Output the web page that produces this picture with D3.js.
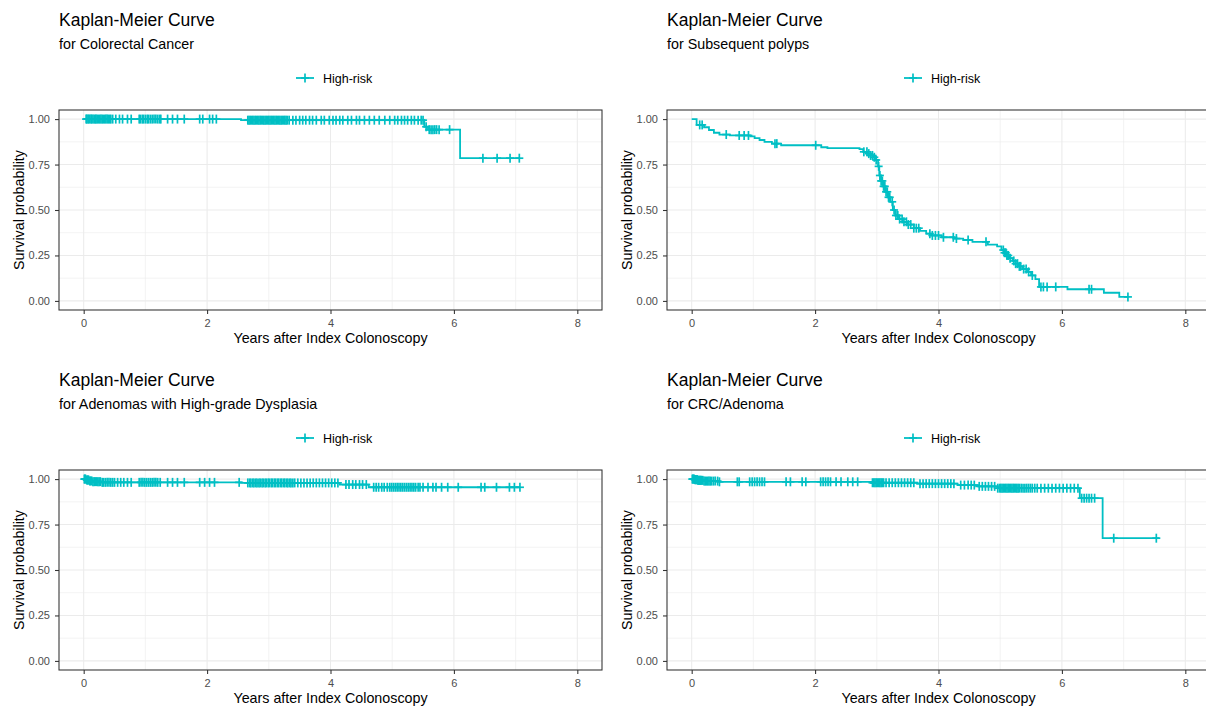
<!DOCTYPE html>
<html lang="en">
<head>
<meta charset="utf-8">
<style>
  body { margin: 0; background: white; }
  svg { background: white; font-family: "Liberation Sans", Arial, sans-serif; }
  .grid-major { stroke: #ebebeb; stroke-width: 1.07px; }
  .grid-minor { stroke: #ebebeb; stroke-width: 0.6px; }
  .border { fill: none; stroke: #333333; stroke-width: 1.07px; }
  .axis text { fill: #4d4d4d; font-size: 11px; font-family: "Liberation Sans", Arial, sans-serif; }
  .axis line { stroke: #333333; stroke-width: 1.07px; }
  .axis path { display: none; }
  .km { fill: none; stroke: #00BFC4; stroke-width: 1.8px; }
  .cens { stroke: #00BFC4; stroke-width: 1.7px; }
  .title { font-size: 17.5px; fill: black; }
  .subtitle { font-size: 14.3px; fill: black; }
  .lab { font-size: 14.3px; fill: black; }
  .legend-text { font-size: 12.5px; fill: black; }
</style>
<script src="https://d3js.org/d3.v7.min.js"></script>
</head>
<body>
<script>
// tick values
var xTicks = [0, 2, 4, 6, 8];
var xMinor = [1, 3, 5, 7];
var yTicks = [0, 0.25, 0.5, 0.75, 1];
var yMinor = [0.125, 0.375, 0.625, 0.875];

var titles = ["Kaplan-Meier Curve", "Kaplan-Meier Curve", "Kaplan-Meier Curve", "Kaplan-Meier Curve"];
var subtitles = ["for Colorectal Cancer", "for Subsequent polyps",
                 "for Adenomas with High-grade Dysplasia", "for CRC/Adenoma"];
var legendLabel = "High-risk";

// Colorectal cancer
var crcTime = [0, 2.55, 5.52, 5.58, 6.1];
var crcSurv = [1, 0.994, 0.958, 0.942, 0.785];
var crcEnd = 7.06;
var crcCensor = [0.04,0.05,0.07,0.08,0.1,0.12,0.13,0.15,0.17,0.19,0.2,0.22,0.24,0.26,0.28,0.3,0.32,0.34,0.36,0.38,0.4,0.42,0.44,
  0.47,0.52,0.58,0.63,0.71,0.77,
  0.9,0.92,0.95,0.97,1.0,1.03,1.05,1.08,1.11,1.14,1.17,1.2,1.23,1.25,
  1.36,1.44,1.52,1.63, 1.88,1.93,2.04,2.09,2.15,
  2.66,2.68,2.7,2.72,2.74,2.76,2.78,2.8,2.82,2.84,2.86,2.88,2.9,2.92,2.94,2.96,2.98,3.0,3.02,3.04,3.06,3.08,3.1,3.12,3.14,3.16,3.18,3.2,3.22,3.24,3.26,3.28,3.3,3.33,
  3.39,3.44,3.5,3.55,3.6,3.66,3.71,3.77,3.85,3.9,3.98,4.04,4.09,4.15,4.2,4.28,4.34,4.42,4.47,4.55,4.63,4.71,4.79,4.88,4.96,5.04,5.09,5.15,5.2,5.25,5.31,5.36,5.42,5.47,5.5,
  5.55,5.6,5.63,5.66,5.69,5.72,5.76, 5.93, 6.47,6.7,6.91,7.06];

// Subsequent polyps
var polTime = [0,0.08,0.2,0.28,0.36,0.45,0.62,0.95,1.02,1.1,1.18,1.3,1.45,2.1,2.2,2.72,2.78,2.85,2.9,2.95,2.98,3.02,3.04,3.07,3.1,3.14,3.18,3.22,3.26,3.3,3.36,3.42,3.5,3.6,3.7,3.8,3.88,4.05,4.25,4.4,4.55,4.8,4.95,5.02,5.06,5.1,5.15,5.2,5.25,5.3,5.36,5.45,5.5,5.57,5.63,6.09,6.68,6.93];
var polSurv = [1,0.968,0.955,0.94,0.925,0.915,0.91,0.905,0.895,0.885,0.875,0.865,0.856,0.845,0.84,0.835,0.82,0.81,0.8,0.79,0.775,0.74,0.69,0.66,0.63,0.6,0.57,0.545,0.5,0.47,0.45,0.435,0.42,0.4,0.385,0.37,0.36,0.35,0.343,0.335,0.325,0.31,0.3,0.28,0.265,0.25,0.235,0.22,0.205,0.19,0.175,0.16,0.14,0.12,0.077,0.064,0.045,0.022];
var polEnd = 7.07;
var polCensor = [0.13,0.17, 0.56, 0.77,0.85,0.92, 1.35,1.38, 2.01,
  2.79,2.84,2.87,2.9,2.93,2.96,2.99, 3.03,3.05,3.07,3.09,3.11,3.13,3.15,3.17,3.19,3.21, 3.25,
  3.28,3.31,3.34,3.37, 3.41,3.44,3.48,3.51,3.55, 3.6,3.64,3.68, 3.86,3.9,3.95,4.0,4.08,
  4.24,4.29, 4.48, 4.77, 5.05,5.07,5.09,5.11,5.13,5.16, 5.22,5.25,5.28,5.31,5.33,
  5.38,5.42,5.46, 5.52, 5.66,5.7,5.76, 5.9, 6.44,6.48, 7.07];

// Adenomas with high-grade dysplasia
var hgdTime = [0, 0.04, 0.09, 0.14, 0.3, 2.55, 4.15, 4.62];
var hgdSurv = [1, 0.995, 0.99, 0.986, 0.982, 0.979, 0.97, 0.955];
var hgdEnd = 7.07;
var hgdCensor = [0.01,0.02,0.03,0.05,0.06,0.07,0.08,0.1,0.11,0.13,0.15,0.17,0.19,0.21,0.23,0.25,0.27,0.3,0.32,0.35,0.38,0.41,0.44,0.47,0.5,
  0.55,0.6,0.65,0.71,0.77,
  0.9,0.93,0.96,0.99,1.02,1.05,1.08,1.11,1.14,1.17,1.2,1.24,
  1.36,1.44,1.52,1.63, 1.88,1.96,2.04,2.12, 2.52,
  2.66,2.69,2.71,2.74,2.76,2.79,2.81,2.84,2.86,2.89,2.91,2.94,2.96,2.99,3.01,3.04,3.06,3.09,3.11,3.14,3.16,3.19,3.21,3.24,3.26,3.29,3.31,3.34,3.36,3.39,
  3.42,3.47,3.52,3.57,3.62,3.67,3.72,3.77,3.82,3.87,3.92,3.97,4.02,4.07,4.12,
  4.25,4.3,4.36,4.41,4.47,4.52,4.58,
  4.7,4.74,4.78,4.83,4.87,4.92,4.96,4.99,5.02,5.05,5.08,5.11,5.14,5.17,5.2,5.23,5.26,5.29,5.32,5.35,5.38,5.42,5.45,
  5.5,5.58,5.66,5.71,5.8,5.9,6.07, 6.44,6.5,6.69,6.9,6.98,7.07];

// CRC / Adenoma
var adnTime = [0, 0.05, 0.1, 0.2, 0.45, 2.91, 3.66, 4.31, 4.64, 4.96, 6.29, 6.66];
var adnSurv = [1, 0.997, 0.993, 0.989, 0.985, 0.98, 0.975, 0.967, 0.96, 0.95, 0.895, 0.675];
var adnEnd = 7.58;
var adnCensor = [0.01,0.02,0.03,0.04,0.05,0.06,0.07,0.08,0.09,0.1,0.11,0.12,0.13,0.14,0.15,0.16,0.18,0.2,0.22,0.24,0.26,0.28,0.3,0.32,0.35,0.38,0.42,0.45,
  0.74,0.77, 0.94,0.98,1.02,1.06,1.1,1.14,1.18, 1.53,1.6, 1.79,1.85,
  2.09,2.13,2.17,2.21,2.25, 2.34, 2.42,2.53,2.61,2.69,
  2.93,2.95,2.97,2.99,3.01,3.03,3.05,3.07,3.09,3.11,
  3.15,3.2,3.25,3.3,3.35,3.4,3.45,3.5,3.55,3.6,
  3.7,3.75,3.8,3.85,3.9,3.95,4.0,4.05,4.1,4.15,4.2,4.25,
  4.36,4.42,4.48,4.53,4.58, 4.66,4.71,4.76,4.81,4.86,4.91,4.96,
  4.99,5.01,5.03,5.05,5.07,5.09,5.11,5.13,5.15,5.17,5.19,5.21,5.23,5.25,5.27,5.29,5.31,5.34,5.37,5.4,5.43,5.46,5.49,5.52,5.56,
  5.6,5.66,5.72,5.78,5.84,5.9,5.96,6.02,6.08,6.14,6.2,6.26,
  6.32,6.36,6.4,6.44,6.48,6.53, 6.84,7.53];

var series = [
  { time: crcTime, surv: crcSurv, end: crcEnd, cens: crcCensor },
  { time: polTime, surv: polSurv, end: polEnd, cens: polCensor },
  { time: hgdTime, surv: hgdSurv, end: hgdEnd, cens: hgdCensor },
  { time: adnTime, surv: adnSurv, end: adnEnd, cens: adnCensor }
];

var width = 1206, height = 707;
var colX = [0, 608], rowY = [0, 360];
var plotL = 59, plotW = 543, plotT = 110, plotH = 200;

var svg = d3.select("body").append("svg")
  .attr("width", width)
  .attr("height", height);

function survAt(s, t) {
  var v = s.surv[0];
  for (var i = 0; i < s.time.length; i++) if (s.time[i] <= t) v = s.surv[i];
  return v;
}

// "+" censor glyph
function plus(sel, rx, ry) {
  sel.append("line").attr("class", "cens").attr("x1", -rx).attr("x2", rx).attr("y1", 0).attr("y2", 0);
  sel.append("line").attr("class", "cens").attr("x1", 0).attr("x2", 0).attr("y1", -ry).attr("y2", ry);
}

series.forEach(function(s, k) {
  var ox = colX[k % 2], oy = rowY[Math.floor(k / 2)];
  var g = svg.append("g").attr("transform", "translate(" + ox + "," + oy + ")");

  var x = d3.scaleLinear().domain([-0.4, 8.4]).range([plotL, plotL + plotW]);
  var y = d3.scaleLinear().domain([-0.05, 1.05]).range([plotT + plotH, plotT]);

  // titles
  g.append("text").attr("class", "title").attr("x", 59).attr("y", 25.5).text(titles[k]);
  g.append("text").attr("class", "subtitle").attr("x", 59).attr("y", 48.5).text(subtitles[k]);

  // legend
  var lg = g.append("g").attr("transform", "translate(305,78)");
  lg.append("line").attr("class", "km").attr("x1", -9).attr("x2", 9).attr("y1", 0).attr("y2", 0);
  lg.call(plus, 4, 4.5);
  g.append("text").attr("class", "legend-text").attr("x", 323).attr("y", 82.5).text(legendLabel);

  // grid
  var grid = g.append("g");
  grid.selectAll(".gx2").data(xMinor).enter().append("line").attr("class", "grid-minor")
    .attr("x1", x).attr("x2", x).attr("y1", plotT).attr("y2", plotT + plotH);
  grid.selectAll(".gy2").data(yMinor).enter().append("line").attr("class", "grid-minor")
    .attr("x1", plotL).attr("x2", plotL + plotW).attr("y1", y).attr("y2", y);
  grid.selectAll(".gx").data(xTicks).enter().append("line").attr("class", "grid-major")
    .attr("x1", x).attr("x2", x).attr("y1", plotT).attr("y2", plotT + plotH);
  grid.selectAll(".gy").data(yTicks).enter().append("line").attr("class", "grid-major")
    .attr("x1", plotL).attr("x2", plotL + plotW).attr("y1", y).attr("y2", y);

  // axes
  g.append("g").attr("class", "axis")
    .attr("transform", "translate(0," + (plotT + plotH) + ")")
    .call(d3.axisBottom(x).tickValues(xTicks).tickSize(4).tickPadding(5));
  g.append("g").attr("class", "axis")
    .attr("transform", "translate(" + plotL + ",0)")
    .call(d3.axisLeft(y).tickValues(yTicks).tickFormat(d3.format(".2f")).tickSize(4).tickPadding(5));

  g.append("text").attr("class", "lab").attr("text-anchor", "middle")
    .attr("x", plotL + plotW / 2).attr("y", 343).text("Years after Index Colonoscopy");
  g.append("text").attr("class", "lab").attr("text-anchor", "middle")
    .attr("transform", "translate(23.5," + (plotT + plotH / 2) + ") rotate(-90)")
    .text("Survival probability");

  // curve
  var pts = s.time.map(function(t, i) { return [t, s.surv[i]]; });
  pts.push([s.end, s.surv[s.surv.length - 1]]);
  var line = d3.line().x(function(d) { return x(d[0]); }).y(function(d) { return y(d[1]); })
    .curve(d3.curveStepAfter);
  g.append("path").datum(pts).attr("class", "km").attr("d", line);

  g.selectAll(".cmark").data(s.cens).enter().append("g")
    .attr("transform", function(t) { return "translate(" + x(t) + "," + y(survAt(s, t)) + ")"; })
    .each(function() { d3.select(this).call(plus, 4, 4.5); });

  g.append("rect").attr("class", "border")
    .attr("x", plotL).attr("y", plotT).attr("width", plotW).attr("height", plotH);
});
</script>
</body>
</html>
